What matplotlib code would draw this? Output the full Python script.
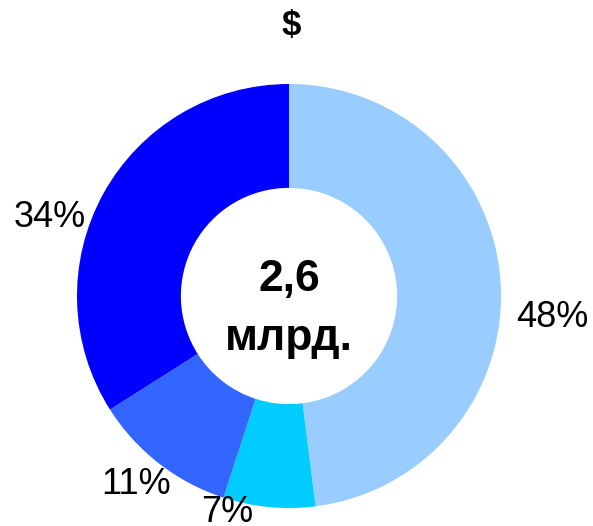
import matplotlib
matplotlib.use("Agg")
import matplotlib.pyplot as plt

plt.rcParams['font.family'] = ['Liberation Sans', 'DejaVu Sans']

# data
shares = [48, 7, 11, 34]
labels = ["48%", "7%", "11%", "34%"]
colors = ["#99CCFF", "#00CCFF", "#3366FF", "#0000FF"]
# label spots (data coords, pie radius = 1)
label_xy = [(1.24, -0.10), (-0.29, -1.02), (-0.72, -0.89), (-1.13, 0.37)]
title = "$"
center_top = "2,6"
center_bottom = "млрд."

fig = plt.figure(figsize=(5.93, 5.26), dpi=100)
ax = fig.add_axes([77 / 593, 18 / 526, 424 / 593, 424 / 526])

ax.pie(shares, colors=colors, startangle=90, counterclock=False,
       radius=1, wedgeprops=dict(width=0.49, linewidth=0))

for (x, y), lab in zip(label_xy, labels):
    ax.text(x, y, lab, ha="center", va="center", fontsize=26)

ax.text(0, 0.08, center_top, ha="center", va="center", fontsize=32, fontweight="bold")
ax.text(0, -0.20, center_bottom, ha="center", va="center", fontsize=32, fontweight="bold")

fig.text(291 / 593, 1 - 26 / 526, title, ha="center", va="center", fontsize=25, fontweight="bold")

ax.set_xlim(-1, 1)
ax.set_ylim(-1, 1)
ax.set_aspect("equal")
ax.axis("off")

fig.savefig("out.png", dpi=100)
